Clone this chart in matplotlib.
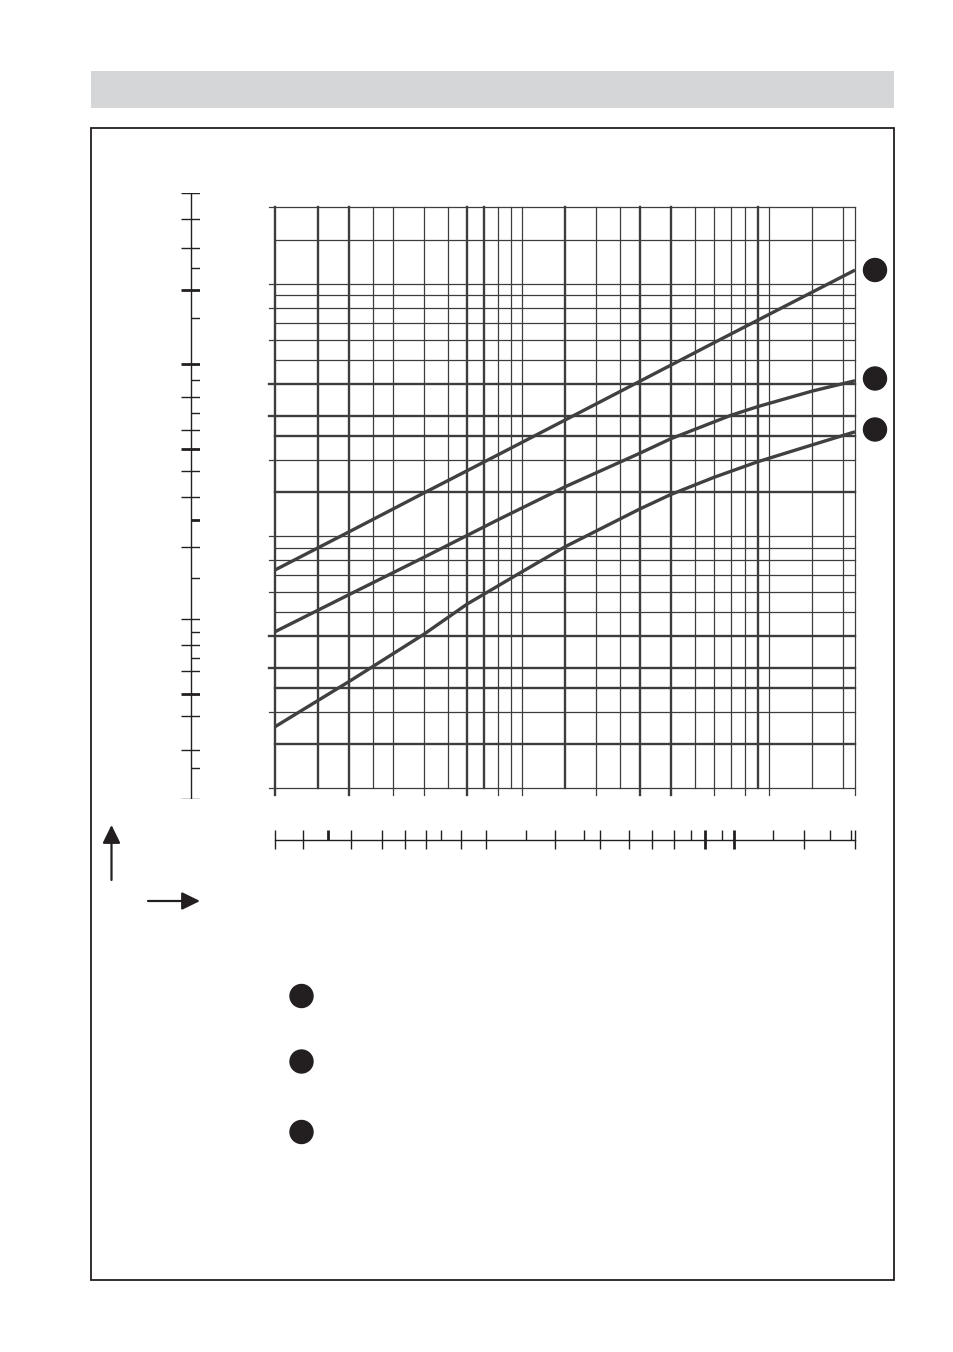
import matplotlib
matplotlib.use("Agg")
import matplotlib.pyplot as plt
from matplotlib.patches import Rectangle, Circle

W, H = 954, 1352

# the three curves
c1_x = [1, 2, 4, 8, 15, 30, 60, 100, 223]
c1_y = [7.33, 10.4, 14.8, 21.0, 28.9, 41.1, 58.5, 75.7, 113.5]
c2_x = [1, 2, 4, 8, 15, 30, 40, 70, 90, 150, 223]
c2_y = [4.17, 5.86, 8.22, 11.6, 15.7, 21.3, 24.3, 30.1, 32.6, 37.6, 41.3]
c3_x = [1, 2, 4, 6, 10, 15, 30, 40, 60, 90, 150, 223]
c3_y = [1.75, 2.65, 4.07, 5.37, 7.21, 9.08, 12.8, 14.6, 17.1, 19.7, 23.0, 25.9]

# grid lines (long = with a stub outside the frame)
x_long = [1, 2, 3, 4, 6, 8, 10, 20, 30, 40, 60, 80, 100, 223]
x_short = [1.5, 2.5, 5, 7, 9, 15, 25, 50, 70, 90, 150, 200]
x_thick = [1, 1.5, 2, 6, 7, 15, 30, 40, 90]
y_long = [1, 2, 3, 4, 6, 8, 10, 20, 30, 40, 60, 80, 100, 202]
y_short = [1.5, 2.5, 5, 7, 9, 15, 25, 50, 70, 90, 150]
y_thick = [1.5, 2.5, 3, 4, 15, 25, 30, 40]

# second scale on the left (same units as main y)
left_both = [229, 181, 139, 35.5, 26.4, 18.1, 14.3, 9.02, 4.69, 3.68, 2.90, 1.93, 1.415, 0.904]
left_both_thick = [94.8, 48.3, 22.2, 2.37]
left_right = [116, 73.3, 41.5, 30.7, 6.79, 4.15, 3.27, 1.197]
left_right_thick = [11.6]

# second scale below (same units as main x)
bot_both = [1.0, 1.30, 2.025, 2.72, 3.35, 4.08, 5.64, 7.18, 13.6, 20.7, 27.2, 33.7, 41.4, 139, 223]
bot_both_thick = [55.1, 72.4]
bot_up = [4.72, 10.4, 17.9, 48.2, 64.7, 104, 176, 214]
bot_up_thick = [1.645]

GRID = "#3d3d3d"
INK = "#231f20"
thin, thick = 0.9, 1.7


def rect(x0, y0, x1, y1):
    return [x0 / W, 1 - y1 / H, (x1 - x0) / W, (y1 - y0) / H]


fig = plt.figure(figsize=(W / 100, H / 100), dpi=100, facecolor="white")

# page decorations
deco = fig.add_axes([0, 0, 1, 1])
deco.set_xlim(0, W)
deco.set_ylim(H, 0)
deco.set_axis_off()
deco.add_patch(Rectangle((91, 71), 803, 37, facecolor="#d5d6d8", edgecolor="none"))
deco.add_patch(Rectangle((91, 128), 803, 1152, facecolor="none", edgecolor=INK, lw=1.3))
for cy in [270, 378.5, 429.5]:
    deco.add_patch(Circle((875, cy), 11.5, color=INK))
for cy in [996, 1061.5, 1132]:
    deco.add_patch(Circle((301.5, cy), 11.5, color=INK))
aprops = dict(arrowstyle="-|>,head_length=0.55,head_width=0.27", mutation_scale=20,
              lw=1.6, color=INK, shrinkA=0, shrinkB=0)
deco.annotate("", xy=(111.5, 825), xytext=(111.5, 880), arrowprops=aprops)
deco.annotate("", xy=(200, 901), xytext=(148, 901), arrowprops=aprops)

# main chart
ax = fig.add_axes(rect(275, 207, 855, 788))
ax.set_xscale("log")
ax.set_yscale("log")
ax.set_xlim(1, 223)
ax.set_ylim(1, 202)
ax.set_axis_off()
for v in x_long:
    ax.axvline(v, ymin=-7 / 581, ymax=1, color=GRID, lw=thick if v in x_thick else thin,
               clip_on=False)
for v in x_short:
    ax.axvline(v, color=GRID, lw=thick if v in x_thick else thin, clip_on=False)
for v in y_long:
    ax.axhline(v, xmin=-6 / 580, xmax=1, color=GRID, lw=thick if v in y_thick else thin,
               clip_on=False)
for v in y_short:
    ax.axhline(v, color=GRID, lw=thick if v in y_thick else thin, clip_on=False)

for cx, cy in [(c1_x, c1_y), (c2_x, c2_y), (c3_x, c3_y)]:
    ax.plot(cx, cy, color="#404040", lw=2.4, solid_capstyle="butt",
            solid_joinstyle="round", zorder=5)

# left scale
axl = fig.add_axes(rect(181, 193.3, 200, 799))
axl.set_yscale("log")
axl.set_ylim(0.904, 229)
axl.set_xlim(0, 19)
axl.set_axis_off()
axl.axvline(9.7, color=INK, lw=1.0)
axl.hlines(left_both, 0, 19, color=INK, lw=1.0)
axl.hlines(left_both_thick, 0, 19, color=INK, lw=2.0)
axl.hlines(left_right, 9.7, 19, color=INK, lw=1.0)
axl.hlines(left_right_thick, 9.7, 19, color=INK, lw=2.0)

# bottom scale
axb = fig.add_axes(rect(275, 830, 855, 849))
axb.set_xscale("log")
axb.set_xlim(1, 223)
axb.set_ylim(0, 19)
axb.set_axis_off()
axb.axhline(9, color=INK, lw=1.0, clip_on=False)
axb.vlines(bot_both, 0, 19, color=INK, lw=1.0, clip_on=False)
axb.vlines(bot_both_thick, 0, 19, color=INK, lw=2.0, clip_on=False)
axb.vlines(bot_up, 9, 19, color=INK, lw=1.0, clip_on=False)
axb.vlines(bot_up_thick, 9, 19, color=INK, lw=2.0, clip_on=False)

fig.savefig("out.png", dpi=100, facecolor="white")
